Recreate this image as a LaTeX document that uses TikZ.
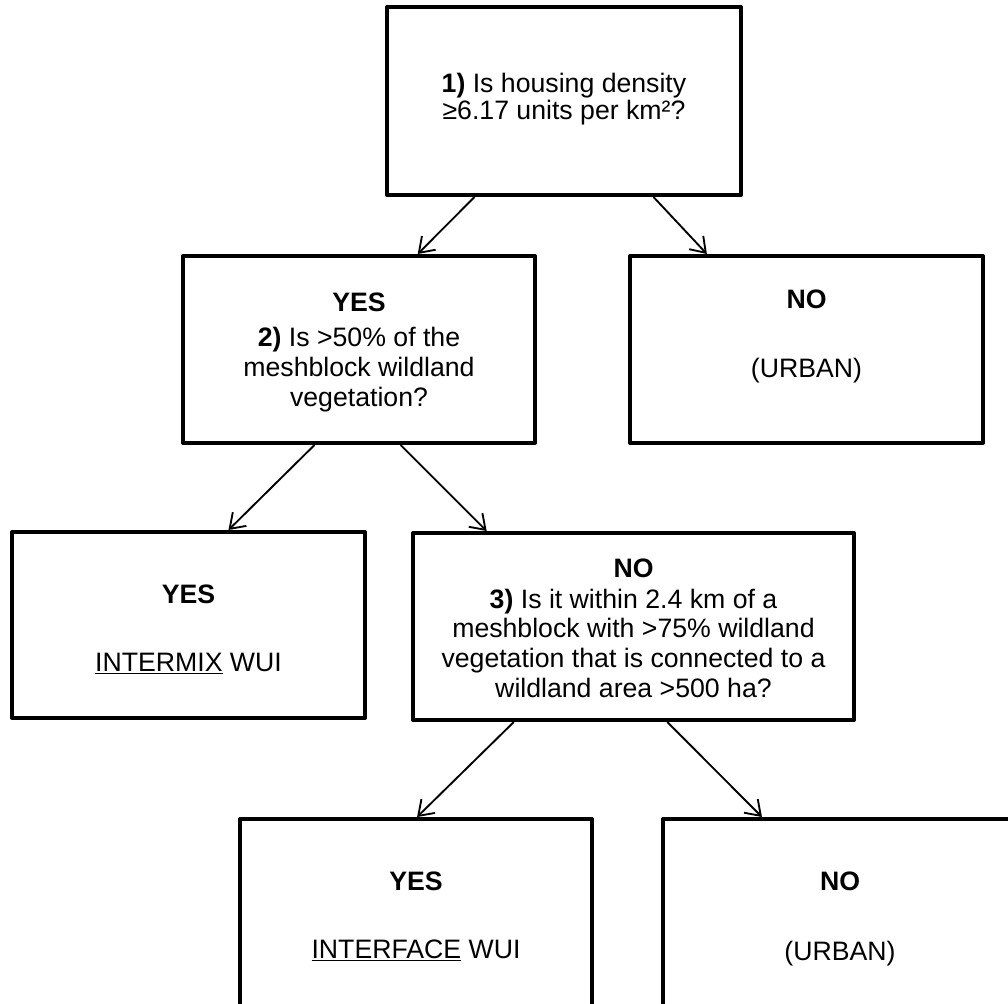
\documentclass[tikz,border=0pt]{standalone}
\usepackage{fontspec}
\setmainfont{Liberation Sans}
\usetikzlibrary{arrows.meta,calc}
\begin{document}
\begin{tikzpicture}[x=0.75pt,y=-0.75pt,
  box/.style={draw,line width=3pt,line join=round,inner sep=0pt},
  txt/.style={anchor=base,inner sep=0pt,font=\fontsize{20}{24}\selectfont},
  conn/.style={line width=1.4pt,-{Straight Barb[length=10.5pt,width=14.5pt,line width=1.4pt]}}]
\useasboundingbox (0,0) rectangle (1008,1004);
\clip (0,0) rectangle (1008,1004);
\fill[white] (0,0) rectangle (1008,1004);
% boxes
\node[box,minimum width=265.5pt,minimum height=141pt] (b1) at (564,101) {};
\node[box,minimum width=264pt,minimum height=140.25pt] (b2) at (359,349.5) {};
\node[box,minimum width=264.75pt,minimum height=140.25pt] (b3) at (806.5,349.5) {};
\node[box,minimum width=264.75pt,minimum height=139.5pt] (b4) at (188.5,625) {};
\node[box,minimum width=330.75pt,minimum height=140.25pt] (b5) at (633.5,626.5) {};
\node[box,minimum width=264pt,minimum height=145.5pt] (b6) at (416,916) {};
\node[box,minimum width=265.5pt,minimum height=145.5pt] (b7) at (840,916) {};
% texts
\node[txt] (t1a) at (564,92) {\textbf{1)} Is housing density};
\node[txt] (t1b) at (564,119) {≥6.17 units per km²?};
\node[txt] (t2a) at (359,311) {\textbf{YES}};
\node[txt] (t2b) at (359,346) {\textbf{2)} Is >50\% of the};
\node[txt] (t2c) at (359,376) {meshblock wildland};
\node[txt] (t2d) at (359,406) {vegetation?};
\node[txt] (t3a) at (806.5,308) {\textbf{NO}};
\node[txt] (t3b) at (806.5,377) {(URBAN)};
\node[txt] (t4a) at (188.5,603) {\textbf{YES}};
\node[txt] (t4b) at (188.5,671) {\underline{INTERMIX} WUI};
\node[txt] (t5a) at (633.5,577) {\textbf{NO}};
\node[txt] (t5b) at (633.5,608) {\textbf{3)} Is it within 2.4 km of a};
\node[txt] (t5c) at (633.5,637) {meshblock with >75\% wildland};
\node[txt] (t5d) at (633.5,667) {vegetation that is connected to a};
\node[txt] (t5e) at (633.5,697) {wildland area >500 ha?};
\node[txt] (t6a) at (416,890) {\textbf{YES}};
\node[txt] (t6b) at (416,958) {\underline{INTERFACE} WUI};
\node[txt] (t7a) at (840,890) {\textbf{NO}};
\node[txt] (t7b) at (840,960) {(URBAN)};
% connectors
\draw[conn] ($(b1.south west)!0.25!(b1.south east)$) -- ($(b2.north west)!0.665!(b2.north east)$);
\draw[conn] ($(b1.south west)!0.75!(b1.south east)$) -- ($(b3.north west)!0.221!(b3.north east)$);
\draw[conn] ($(b2.south west)!0.375!(b2.south east)$) -- ($(b4.north west)!0.612!(b4.north east)$);
\draw[conn] ($(b2.south west)!0.617!(b2.south east)$) -- ($(b5.north west)!0.17!(b5.north east)$);
\draw[conn] ($(b5.south west)!0.231!(b5.south east)$) -- ($(b6.north west)!0.503!(b6.north east)$);
\draw[conn] ($(b5.south west)!0.576!(b5.south east)$) -- ($(b7.north west)!0.282!(b7.north east)$);
\end{tikzpicture}
\end{document}
